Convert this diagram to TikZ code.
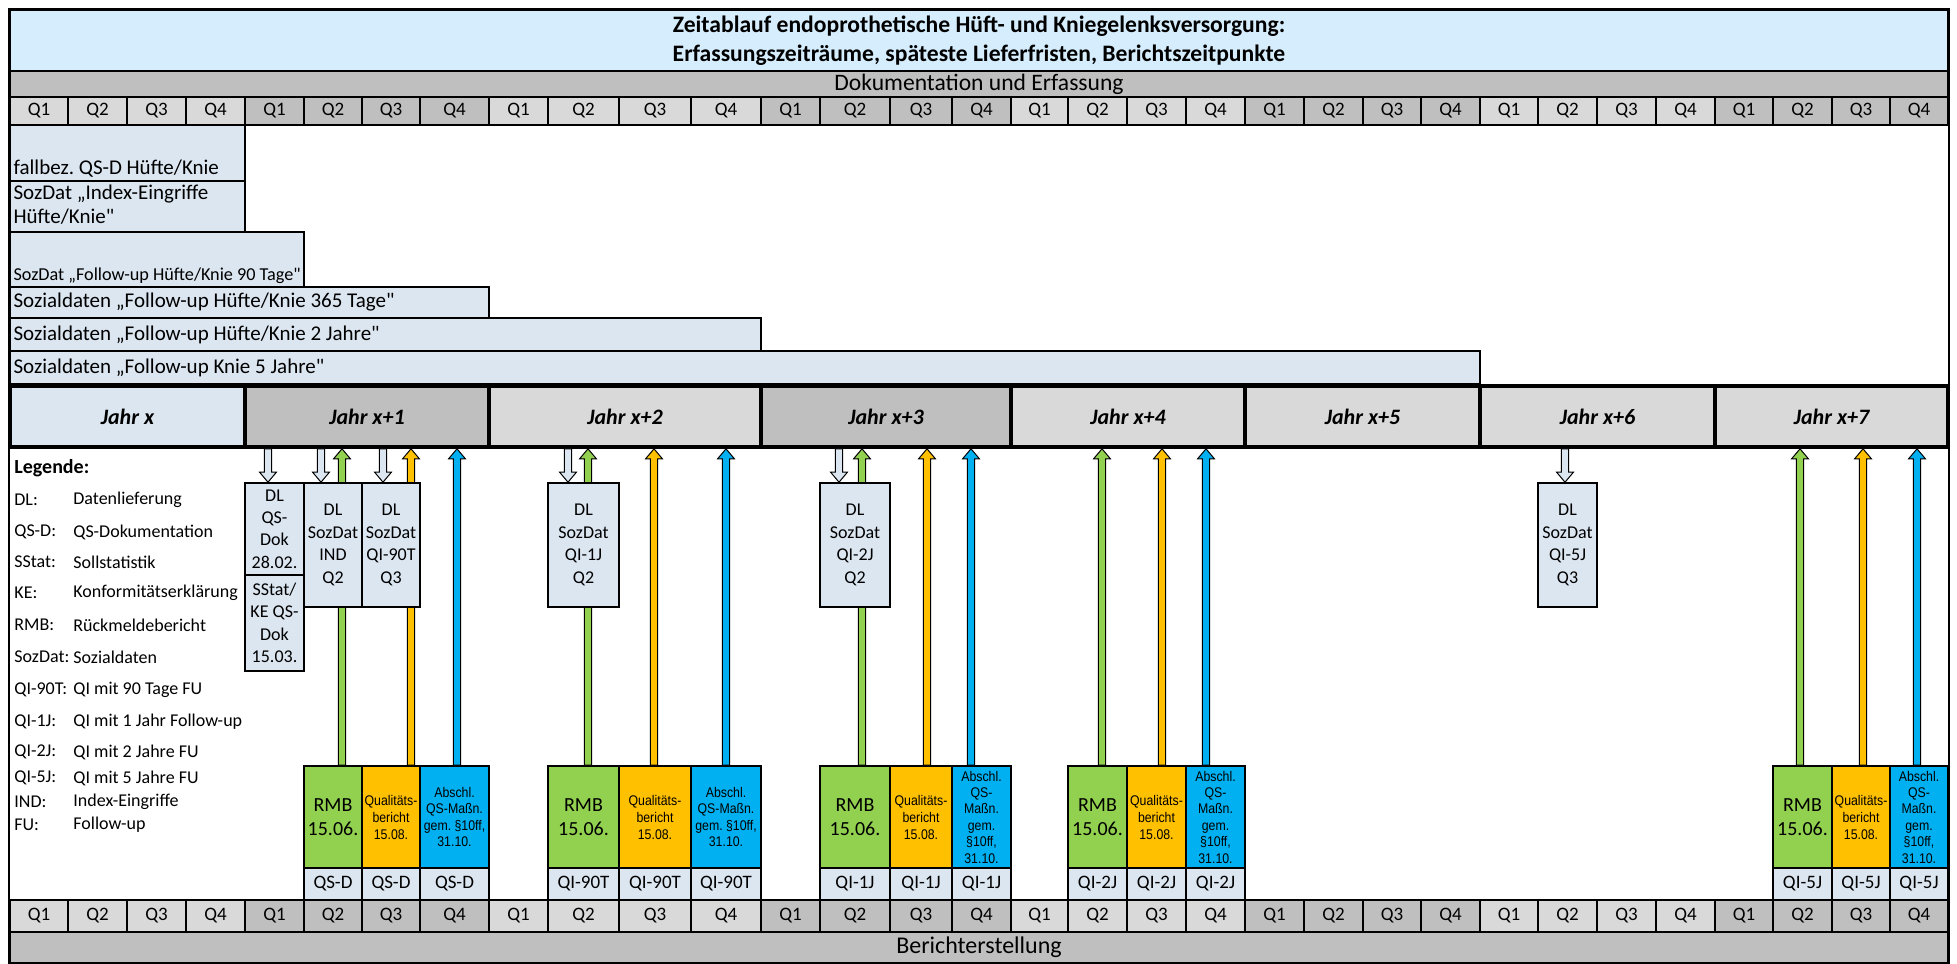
\documentclass[tikz,border=0pt]{standalone}
\usepackage{fontspec}
\setmainfont{Carlito}[Ligatures=TeXOff]
\newfontfamily\schmal[FakeStretch=0.88]{Liberation Sans}
\usetikzlibrary{calc,positioning}
\frenchspacing

\definecolor{titelblau}{HTML}{D5EDFC}
\definecolor{hellblau}{HTML}{DCE6F1}
\definecolor{grauhell}{HTML}{D9D9D9}
\definecolor{graudunkel}{HTML}{BFBFBF}
\definecolor{rmbgruen}{HTML}{92D050}
\definecolor{qbgelb}{HTML}{FFC000}
\definecolor{qsblau}{HTML}{00B0F0}

% Blockpfeil: Farbe, Fusspunkt, Ziel (nur dessen Hoehe zaehlt), Versatz der Spitzenbasis
\newcommand{\blockpfeil}[4]{%
  \path #2 coordinate (pa) (pa |- #3) coordinate (pb);
  \filldraw[fill=#1,draw=black,line width=0.5pt]
    ($(pa)+(-1.8pt,0)$) -- ($(pb)+(-1.8pt,#4)$) -- ($(pb)+(-4.2pt,#4)$) -- (pb)
    -- ($(pb)+(4.2pt,#4)$) -- ($(pb)+(1.8pt,#4)$) -- ($(pa)+(1.8pt,0)$) -- cycle;
}

\begin{document}
\begin{tikzpicture}[
  x=0.5pt, y=-0.5pt,
  font=\fontsize{9.5}{11.5}\selectfont,
  % Feld aus zwei Ecken (links, oben, rechts, unten) in Pixeln
  feld/.style n args={4}{minimum width={(#3-#1)*0.5pt},minimum height={(#4-#2)*0.5pt},
                         at={({(#1+#3)/2},{(#2+#4)/2})}},
  zelle/.style={draw,line width=0.8pt,inner sep=0pt},
  qzelle/.style={zelle,font=\fontsize{9.5}{11}\selectfont},
  balken/.style={zelle,fill=hellblau},
  btext/.style={inner sep=2pt,align=left,font=\fontsize{10.5}{12}\selectfont},
  jahr/.style={draw,line width=1.8pt,inner sep=0pt,font=\fontsize{11}{13}\bfseries\itshape\selectfont},
  dlbox/.style={zelle,fill=hellblau,align=center,font=\fontsize{9}{11.2}\selectfont},
  rmb/.style={zelle,fill=rmbgruen,align=center,font=\fontsize{10}{12}\selectfont},
  qbericht/.style={zelle,fill=qbgelb,align=center,font=\schmal\fontsize{7}{8.5}\selectfont},
  abschl/.style={zelle,fill=qsblau,align=center,font=\schmal\fontsize{7}{8.2}\selectfont},
  kennung/.style={zelle,fill=hellblau,font=\fontsize{9.5}{11}\selectfont},
  leg/.style={anchor=west,inner sep=0pt,font=\fontsize{9}{11}\selectfont},
]
\useasboundingbox (0,0) rectangle (1957,963);

% Quartalsgrenzen in Pixeln (Excel-Spalten sind nicht gleich breit)
\def\spalten{{10,68,127,186,245,304,362,420,489,548,619,691,761,820,890,952,1011,1068,1127,1186,1245,1304,1363,1421,1480,1538,1597,1656,1715,1773,1832,1890,1948}}

% ---------------- Kopf ----------------
\node[zelle,fill=titelblau,align=center,font=\fontsize{11.8}{14.5}\bfseries\selectfont,
      feld={10}{10}{1948}{71}] (titel)
  {Zeitablauf endoprothetische Hüft- und Kniegelenksversorgung:\\
   Erfassungszeiträume, späteste Lieferfristen, Berichtszeitpunkte};
\node[zelle,fill=graudunkel,feld={10}{71}{1948}{97},font=\fontsize{11.8}{12}\selectfont] (doku)
  {Dokumentation und Erfassung};

% ---------------- Quartale oben und unten ----------------
\foreach \i in {0,...,31}{
  \pgfmathsetmacro{\xa}{\spalten[\i]}
  \pgfmathsetmacro{\xb}{\spalten[\i+1]}
  \pgfmathtruncatemacro{\q}{mod(\i,4)+1}
  \pgfmathtruncatemacro{\jj}{mod(floor(\i/4),2)}
  \ifnum\jj=0 \def\fb{grauhell}\else\def\fb{graudunkel}\fi
  \node[qzelle,fill=\fb,feld={\xa}{97}{\xb}{125}] (qo\i) {Q\q};
  \node[qzelle,fill=\fb,feld={\xa}{900}{\xb}{932}] (qu\i) {Q\q};
}

% ---------------- Erfassungszeitraeume ----------------
\node[balken,feld={10}{125}{245}{181}] (b1) {};
\node[btext,anchor=south west] (t1) at (b1.south west) {fallbez. QS-D Hüfte/Knie};
\node[balken,feld={10}{181}{245}{232}] (b2) {};
\node[btext,anchor=north west] (t2) at (b2.north west) {SozDat „Index-Eingriffe\\Hüfte/Knie"};
\node[balken,feld={10}{232}{304}{287}] (b3) {};
\node[btext,anchor=south west,font=\fontsize{9.1}{10}\selectfont] (t3) at (b3.south west)
  {SozDat „Follow-up Hüfte/Knie 90 Tage"};
\node[balken,feld={10}{287}{489}{318}] (b4) {};
\node[btext,anchor=west] (t4) at (b4.west) {Sozialdaten „Follow-up Hüfte/Knie 365 Tage"};
\node[balken,feld={10}{318}{761}{351}] (b5) {};
\node[btext,anchor=west] (t5) at (b5.west) {Sozialdaten „Follow-up Hüfte/Knie 2 Jahre"};
\node[balken,feld={10}{351}{1480}{384}] (b6) {};
\node[btext,anchor=west] (t6) at (b6.west) {Sozialdaten „Follow-up Knie 5 Jahre"};

% ---------------- Jahre ----------------
\foreach \k/\txt/\fb in {0/Jahr x/hellblau,1/Jahr x+1/graudunkel,2/Jahr x+2/grauhell,
    3/Jahr x+3/graudunkel,4/Jahr x+4/grauhell,5/Jahr x+5/grauhell,6/Jahr x+6/grauhell,7/Jahr x+7/grauhell}{
  \pgfmathsetmacro{\xa}{\spalten[4*\k]}
  \pgfmathsetmacro{\xb}{\spalten[4*\k+4]}
  \node[jahr,fill=\fb,feld={\xa}{386}{\xb}{447}] (jahr\k) {\txt};
}

% ---------------- Legende ----------------
\node[leg,font=\fontsize{10}{12}\bfseries\selectfont] (legende) at (14,468) {Legende:};
\foreach \ab/\besch/\yy [count=\n] in {DL:/Datenlieferung/500,QS-D:/QS-Dokumentation/532,
    SStat:/Sollstatistik/562,KE:/Konformitätserklärung/593,RMB:/Rückmeldebericht/625,
    SozDat:/Sozialdaten/657,QI-90T:/QI mit 90 Tage FU/690,QI-1J:/QI mit 1 Jahr Follow-up/722,
    QI-2J:/QI mit 2 Jahre FU/752,QI-5J:/QI mit 5 Jahre FU/778,IND:/Index-Eingriffe/802,FU:/Follow-up/825}{
  \node[leg] (ab\n) at (14,\yy) {\ab};
  \node[leg] (be\n) at (73,\yy) {\besch};
}

% ---------------- Berichte ----------------
\foreach \g/\s/\kenn in {1/5/QS-D,2/9/QI-90T,3/13/QI-1J,4/17/QI-2J,5/29/QI-5J}{
  \pgfmathsetmacro{\xa}{\spalten[\s]}
  \pgfmathsetmacro{\xb}{\spalten[\s+1]}
  \pgfmathsetmacro{\xc}{\spalten[\s+2]}
  \pgfmathsetmacro{\xd}{\spalten[\s+3]}
  \ifnum\g<3 \def\abtext{Abschl.\\QS-Maßn.\\gem. §10ff,\\31.10.}%
  \else\def\abtext{Abschl.\\QS-\\Maßn.\\gem.\\§10ff,\\31.10.}\fi
  \node[rmb,feld={\xa}{766}{\xb}{868}] (rmb\g) {RMB\\15.06.};
  \node[qbericht,feld={\xb}{766}{\xc}{868}] (qb\g) {Qualitäts-\\bericht\\15.08.};
  \node[abschl,feld={\xc}{766}{\xd}{868}] (as\g) {\abtext};
  \node[kennung,feld={\xa}{868}{\xb}{900}] (ka\g) {\kenn};
  \node[kennung,feld={\xb}{868}{\xc}{900}] (kb\g) {\kenn};
  \node[kennung,feld={\xc}{868}{\xd}{900}] (kc\g) {\kenn};
}

% Pfeile von den Berichten hoch zur Jahreszeile
\foreach \px/\f/\n in {342/rmbgruen/rmb1,411/qbgelb/qb1,457/qsblau/as1,
    588/rmbgruen/rmb2,654/qbgelb/qb2,726/qsblau/as2,
    862/rmbgruen/rmb3,927/qbgelb/qb3,971/qsblau/as3,
    1102/rmbgruen/rmb4,1162/qbgelb/qb4,1206/qsblau/as4,
    1800/rmbgruen/rmb5,1863/qbgelb/qb5,1917/qsblau/as5}{
  \blockpfeil{\f}{(\px,0 |- \n.north)}{jahr0.south}{-5pt}
}

% ---------------- Datenlieferungen ----------------
\node[dlbox,feld={245}{483}{304}{575}] (dl1) {DL\\QS-\\Dok\\28.02.};
\node[dlbox,feld={245}{575}{304}{671}] (dl1b) {SStat/\\KE QS-\\Dok\\15.03.};
\node[dlbox,feld={304}{483}{362}{607}] (dl2) {DL\\SozDat\\IND\\Q2};
\node[dlbox,feld={362}{483}{420}{607}] (dl3) {DL\\SozDat\\QI-90T\\Q3};
\node[dlbox,feld={548}{483}{619}{607}] (dl4) {DL\\SozDat\\QI-1J\\Q2};
\node[dlbox,feld={820}{483}{890}{607}] (dl5) {DL\\SozDat\\QI-2J\\Q2};
\node[dlbox,feld={1538}{483}{1597}{607}] (dl6) {DL\\SozDat\\QI-5J\\Q3};

\foreach \px/\j/\n in {268/jahr1/dl1,321/jahr1/dl2,383/jahr1/dl3,568/jahr2/dl4,839/jahr3/dl5,1565/jahr6/dl6}{
  \blockpfeil{hellblau}{(\px,0 |- \j.south)}{\n.north}{5pt}
}

% ---------------- Fuss ----------------
\node[zelle,fill=graudunkel,feld={10}{932}{1948}{963},font=\fontsize{12}{12}\selectfont] (bericht)
  {Berichterstellung};
\draw[line width=0.8pt] (titel.north west) rectangle (bericht.south east);

\end{tikzpicture}
\end{document}
